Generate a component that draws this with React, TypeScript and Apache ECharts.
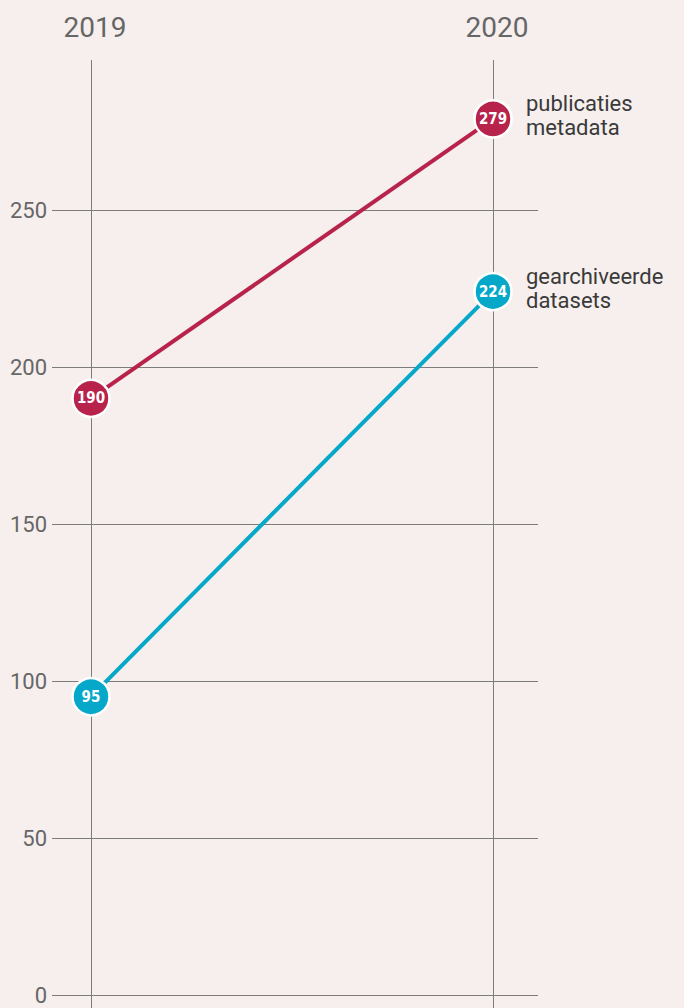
import React, { useEffect, useRef } from "react";
import * as echarts from "echarts";

const years = ["2019", "2020"];
const publicaties = [190, 279];
const datasets = [95, 224];
const seriesNames = ["publicaties\nmetadata", "gearchiveerde\ndatasets"];
const yTicks = { min: 0, max: 300, interval: 50 };

const RED = "#b8234b";
const BLUE = "#05a8c9";
const BG = "#f6efed";
const GRID = "#7c7c7c";

export default function App() {
  const ref = useRef<HTMLDivElement>(null);
  useEffect(() => {
    if (!ref.current) return;
    const chart = echarts.init(ref.current, undefined, { renderer: "svg" });
    const valueLabel = {
      show: true,
      position: "inside",
      color: "#ffffff",
      fontWeight: "bold",
      fontSize: 15,
      fontFamily: "'DejaVu Sans Condensed', 'Liberation Sans Narrow', sans-serif",
    };
    const endLabel = (text: string) => ({
      show: true,
      formatter: text,
      distance: 33,
      color: "#3a3a3a",
      fontSize: 22,
      lineHeight: 24,
      fontFamily: "Roboto, sans-serif",
      align: "left",
      offset: [0, -3],
    });
    const mkSeries = (name: string, data: number[], color: string) => ({
      type: "line",
      name,
      xAxisIndex: 1,
      yAxisIndex: 1,
      data,
      symbol: "circle",
      symbolSize: 37,
      lineStyle: { color, width: 4 },
      itemStyle: { color, borderColor: "#ffffff", borderWidth: 2.5 },
      label: valueLabel,
      endLabel: endLabel(name),
      z: 3,
    });
    chart.setOption({
      animation: false,
      backgroundColor: BG,
      grid: [
        { left: 52, right: 146, top: 53, bottom: 13 },
        { left: 91, right: 191, top: 53, bottom: 13 },
        { left: 91, right: 191, top: 60, bottom: 0 },
      ],
      xAxis: [
        { gridIndex: 0, type: "category", data: years, show: false },
        { gridIndex: 1, type: "category", data: years, boundaryGap: false, show: false },
        {
          gridIndex: 2,
          type: "category",
          data: years,
          boundaryGap: false,
          position: "top",
          axisLine: { show: false },
          axisTick: { show: false },
          axisLabel: {
            color: "#666666",
            fontSize: 28,
            margin: 19,
            padding: [0, 0, 0, 8],
            fontFamily: "Roboto, sans-serif",
          },
          splitLine: { show: true, lineStyle: { color: GRID, width: 1 } },
        },
      ],
      yAxis: [
        {
          gridIndex: 0,
          type: "value",
          min: yTicks.min,
          max: yTicks.max,
          interval: yTicks.interval,
          axisLine: { show: false },
          axisTick: { show: false },
          axisLabel: {
            color: "#666666",
            fontSize: 22,
            margin: 5,
            showMaxLabel: false,
            fontFamily: "Roboto, sans-serif",
          },
          splitLine: { show: true, showMaxLine: false, lineStyle: { color: GRID, width: 1 } },
        },
        { gridIndex: 1, type: "value", min: yTicks.min, max: yTicks.max, show: false },
        { gridIndex: 2, type: "value", show: false, splitLine: { show: false } },
      ],
      series: [
        mkSeries(seriesNames[0], publicaties, RED),
        mkSeries(seriesNames[1], datasets, BLUE),
      ],
    });
    return () => chart.dispose();
  }, []);
  return <div ref={ref} style={{ width: 684, height: 1008, position: "fixed", left: 0, top: 0 }} />;
}
